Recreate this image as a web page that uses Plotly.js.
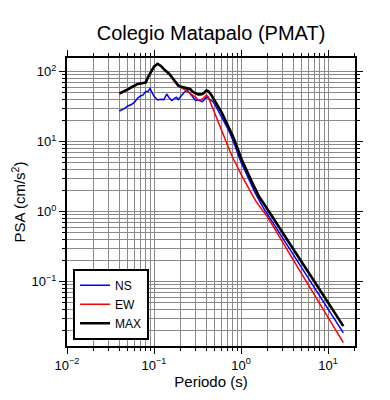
<!DOCTYPE html>
<html>
<head>
<meta charset="utf-8">
<script src="https://cdn.plot.ly/plotly-3.0.1.min.js"></script>
<style>html,body{margin:0;padding:0;background:#fff;}#chart{width:390px;height:400px;}</style>
</head>
<body>
<div id="chart"></div>
<script>
const periods = [0.04,0.045,0.05,0.055,0.06,0.065,0.07,0.075,0.08,0.085,0.09,0.095,
  0.1,0.11,0.12,0.13,0.14,0.15,0.16,0.17,0.18,0.19,0.2,
  0.22,0.24,0.26,0.28,0.3,0.32,0.34,0.36,0.38,0.4,0.42,0.44,0.46,0.48,0.5,
  0.55,0.6,0.65,0.7,0.75,0.8,0.85,0.9,0.95,1.0,
  1.1,1.2,1.3,1.4,1.5,1.6,1.8,2.0,
  2.5,3,3.5,4,5,6,7,8,10,12,15];

const psaNS = [27.5,29.5,32.4,34,37,42,45,46.5,52,52,57.5,50,
  44.5,39.4,40.5,40,48,42,38.8,40.8,43,40,43.5,
  50,55,48,43.5,38.8,39.4,38.8,37.5,40,43.5,42,40,38.2,36.9,34,
  27.5,22.7,18.7,15.6,13.0,10.9,8.9,7.25,6.0,5.1,
  3.95,3.07,2.5,2.05,1.73,1.47,1.14,0.93,
  0.60,0.42,0.31,0.24,0.155,0.109,0.081,0.0625,0.0407,0.0286,0.0186];

const psaEW = [48,51,55,59,63,67,68.5,69,69,81,93,106,
  116,128,119,107,99,91,82,74,66,62,61,
  56.5,51.3,48,46.5,43.5,40,39.4,40.8,43,46.5,43.5,37.5,33,29.5,26.5,
  19.4,14.5,11.2,8.8,7.2,6.0,5.1,4.45,3.9,3.45,
  2.75,2.22,1.85,1.6,1.38,1.23,1.01,0.85,
  0.54,0.365,0.266,0.203,0.128,0.0885,0.0647,0.0493,0.0312,0.0214,0.0135];

const psaMAX = [49,52,56,60,64,67,68,69,70,83,95,108,
  118,130,121,109,101,93,84,76,69,63.5,61.5,
  60,58.5,56.6,51.3,49,47.5,47.5,48,50.5,54,53,49.6,45.7,41.5,37.5,
  31.3,26.1,21.4,17.9,15.0,12.3,10.2,8.3,6.9,5.85,
  4.5,3.5,2.8,2.35,1.98,1.66,1.34,1.09,
  0.71,0.50,0.374,0.29,0.189,0.134,0.0995,0.077,0.0504,0.0356,0.0232];

const seriesNames = ['NS','EW','MAX'];

const xTickVals = [0.01, 0.1, 1, 10];
const xTickText = ['10<sup>\u22122</sup>', '10<sup>\u22121</sup>', '10<sup>0</sup>', '10<sup>1</sup>'];
const yTickVals = [0.1, 1, 10, 100];
const yTickText = ['10<sup>\u22121</sup>', '10<sup>0</sup>', '10<sup>1</sup>', '10<sup>2</sup>'];

const FONT = 'Liberation Sans, Arial, Helvetica, sans-serif';

const traces = [
  {x: periods, y: psaNS, name: seriesNames[0], mode: 'lines', line: {color: '#0000ff', width: 1.5}},
  {x: periods, y: psaEW, name: seriesNames[1], mode: 'lines', line: {color: '#ff0000', width: 1.5}},
  {x: periods, y: psaMAX, name: seriesNames[2], mode: 'lines', line: {color: '#000000', width: 2.6}}
];

const axisCommon = {
  type: 'log',
  tickmode: 'array',
  showgrid: true,
  gridcolor: '#8a8a8a',
  gridwidth: 1,
  showline: true,
  linecolor: '#000',
  linewidth: 2,
  mirror: 'allticks',
  ticks: 'outside',
  ticklen: 6,
  tickwidth: 1,
  tickcolor: '#000',
  zeroline: false,
  tickfont: {family: FONT, size: 13, color: '#000'},
  minor: {dtick: 'D1', showgrid: true, gridcolor: '#8a8a8a', gridwidth: 1, ticks: 'outside', ticklen: 3, tickcolor: '#000'}
};

const layout = {
  width: 390,
  height: 400,
  margin: {l: 67, r: 35, t: 58, b: 54},
  paper_bgcolor: '#fff',
  plot_bgcolor: '#fff',
  font: {family: FONT, color: '#000'},
  title: {text: 'Colegio Matapalo (PMAT)', font: {family: FONT, size: 20, color: '#000'},
          x: 0.5, xref: 'paper', xanchor: 'center', y: 0.918, yref: 'container', yanchor: 'middle'},
  xaxis: Object.assign({}, axisCommon, {
    range: [-2, 1.31],
    tickvals: xTickVals,
    ticktext: xTickText,
    title: {text: 'Periodo (s)', font: {family: FONT, size: 15, color: '#000'}, standoff: 4}
  }),
  yaxis: Object.assign({}, axisCommon, {
    range: [-1.919, 2.196],
    tickvals: yTickVals,
    ticktext: yTickText,
    title: {text: 'PSA (cm/s<sup>2</sup>)', font: {family: FONT, size: 15, color: '#000'}, standoff: 2}
  }),
  showlegend: true,
  legend: {
    x: 0.021, y: 0.268, xanchor: 'left', yanchor: 'top',
    bgcolor: '#fff', bordercolor: '#000', borderwidth: 2,
    font: {family: FONT, size: 12, color: '#000'},
    itemwidth: 30
  }
};

Plotly.newPlot('chart', traces, layout, {displayModeBar: false, staticPlot: true});
</script>
</body>
</html>
